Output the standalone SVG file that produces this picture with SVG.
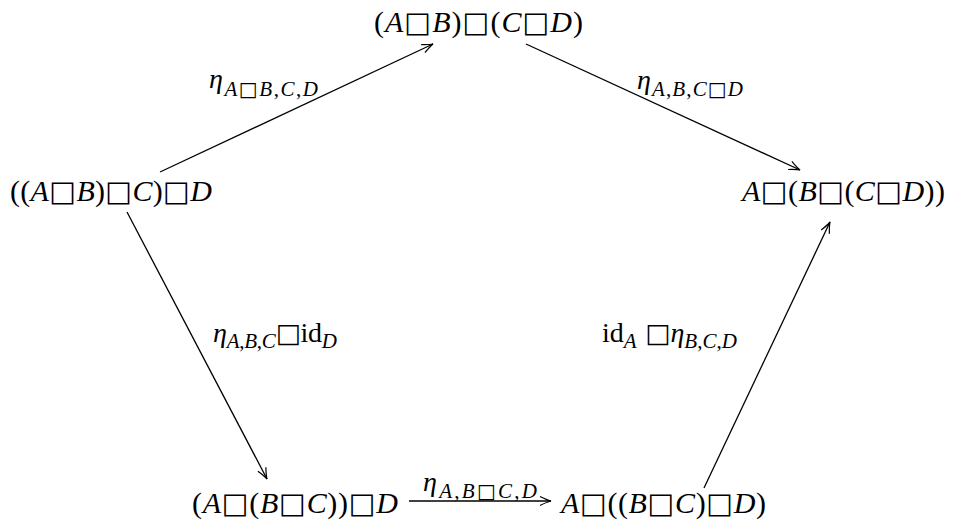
<svg xmlns="http://www.w3.org/2000/svg" width="953" height="523" viewBox="0 0 953 523">
<style>
text{font-family:"Liberation Serif","DejaVu Serif",serif;fill:#000}
.n{font-size:30px}
.i{font-style:italic}
.b{font-family:"DejaVu Sans",sans-serif;font-size:0.95em}
.lab{font-size:28px}
.s{font-size:21px}
.e{stroke:#000;stroke-width:1.3;fill:none;marker-end:url(#ah)}
</style>
<defs>
<marker id="ah" markerWidth="14" markerHeight="12" viewBox="-12 -6 14 12" refX="0" refY="0" orient="auto" markerUnits="userSpaceOnUse">
<path d="M-11,-4.5 Q-4,-1 0,0 Q-4,1 -11,4.5" fill="none" stroke="#000" stroke-width="1.2"/>
</marker>
</defs>
<g id="connectors">
<line class="e" x1="160" y1="172" x2="433" y2="44"/>
<line class="e" x1="526" y1="44" x2="800" y2="170"/>
<line class="e" x1="127" y1="212" x2="267" y2="479"/>
<line class="e" x1="704" y1="488" x2="830" y2="222"/>
<line class="e" x1="409" y1="501" x2="551" y2="501"/>
<text class="lab" x="209" y="88" textLength="109" lengthAdjust="spacing"><tspan class="i">η</tspan><tspan class="s" dy="8"><tspan class="i">A</tspan><tspan class="b">□</tspan><tspan class="i">B</tspan>,<tspan class="i">C</tspan>,<tspan class="i">D</tspan></tspan></text>
<text class="lab" x="637" y="89" textLength="106" lengthAdjust="spacing"><tspan class="i">η</tspan><tspan class="s" dy="7"><tspan class="i">A</tspan>,<tspan class="i">B</tspan>,<tspan class="i">C</tspan><tspan class="b">□</tspan><tspan class="i">D</tspan></tspan></text>
<text class="lab" x="213" y="342" textLength="124" lengthAdjust="spacing"><tspan class="i">η</tspan><tspan class="s" dy="6"><tspan class="i">A</tspan>,<tspan class="i">B</tspan>,<tspan class="i">C</tspan></tspan><tspan class="b" dy="-6">□</tspan>id<tspan class="s i" dy="6">D</tspan></text>
<text class="lab" x="602" y="342" textLength="135" lengthAdjust="spacing">id<tspan class="s i" dy="6">A</tspan><tspan class="b" dy="-6"> □</tspan><tspan class="i">η</tspan><tspan class="s" dy="6"><tspan class="i">B</tspan>,<tspan class="i">C</tspan>,<tspan class="i">D</tspan></tspan></text>
<text class="lab" x="423" y="491" textLength="114" lengthAdjust="spacing"><tspan class="i">η</tspan><tspan class="s" dy="7"><tspan class="i">A</tspan>,<tspan class="i">B</tspan><tspan class="b">□</tspan><tspan class="i">C</tspan>,<tspan class="i">D</tspan></tspan></text>
</g>
<g id="n1"><text class="n" x="374" y="32" textLength="209" lengthAdjust="spacing">(<tspan class="i">A</tspan><tspan class="b">□</tspan><tspan class="i">B</tspan>)<tspan class="b">□</tspan>(<tspan class="i">C</tspan><tspan class="b">□</tspan><tspan class="i">D</tspan>)</text></g>
<g id="n2"><text class="n" x="10" y="201" textLength="202" lengthAdjust="spacing">((<tspan class="i">A</tspan><tspan class="b">□</tspan><tspan class="i">B</tspan>)<tspan class="b">□</tspan><tspan class="i">C</tspan>)<tspan class="b">□</tspan><tspan class="i">D</tspan></text></g>
<g id="n3"><text class="n" x="742" y="201" textLength="203" lengthAdjust="spacing"><tspan class="i">A</tspan><tspan class="b">□</tspan>(<tspan class="i">B</tspan><tspan class="b">□</tspan>(<tspan class="i">C</tspan><tspan class="b">□</tspan><tspan class="i">D</tspan>))</text></g>
<g id="n4"><text class="n" x="192" y="513" textLength="206" lengthAdjust="spacing">(<tspan class="i">A</tspan><tspan class="b">□</tspan>(<tspan class="i">B</tspan><tspan class="b">□</tspan><tspan class="i">C</tspan>))<tspan class="b">□</tspan><tspan class="i">D</tspan></text></g>
<g id="n5"><text class="n" x="561" y="513" textLength="205" lengthAdjust="spacing"><tspan class="i">A</tspan><tspan class="b">□</tspan>((<tspan class="i">B</tspan><tspan class="b">□</tspan><tspan class="i">C</tspan>)<tspan class="b">□</tspan><tspan class="i">D</tspan>)</text></g>
</svg>
